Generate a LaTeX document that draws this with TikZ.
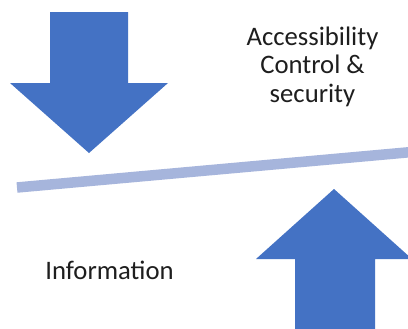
\documentclass[tikz,border=0pt]{standalone}
\usepackage{fontspec}
\setmainfont{Carlito}
\definecolor{arrowblue}{RGB}{68,114,196}
\definecolor{barblue}{RGB}{166,181,220}
\definecolor{txt}{RGB}{30,30,30}
\begin{document}
\begin{tikzpicture}[x=1bp,y=-1bp,
  bigarrow/.style={fill=arrowblue,draw=none},
  lbl/.style={inner sep=0pt,text=txt,align=center,font=\fontsize{26.7bp}{28.5bp}\selectfont}]
\useasboundingbox (0,0) rectangle (408,329);
\fill[white] (0,0) rectangle (408,329);
% down arrow
\fill[bigarrow] (50,12) -- (128,12) -- (128,83) -- (168,83) -- (89,153) -- (10,83) -- (50,83) -- cycle;
% up arrow
\fill[bigarrow] (295,335) -- (295,259) -- (256,259) -- (334,189) -- (412,259) -- (375,259) -- (375,335) -- cycle;
% balance bar
\coordinate (b1) at (17,187.5);
\coordinate (b2) at (412,152);
\draw[barblue,line width=10.5bp] (b1) -- (b2);
% labels
\node[lbl,anchor=base] (acc) at (312.5,102) {Accessibility\\Control \&\\security};
\node[lbl,anchor=base] (info) at (109.5,279.3) {Information};
\end{tikzpicture}
\end{document}
